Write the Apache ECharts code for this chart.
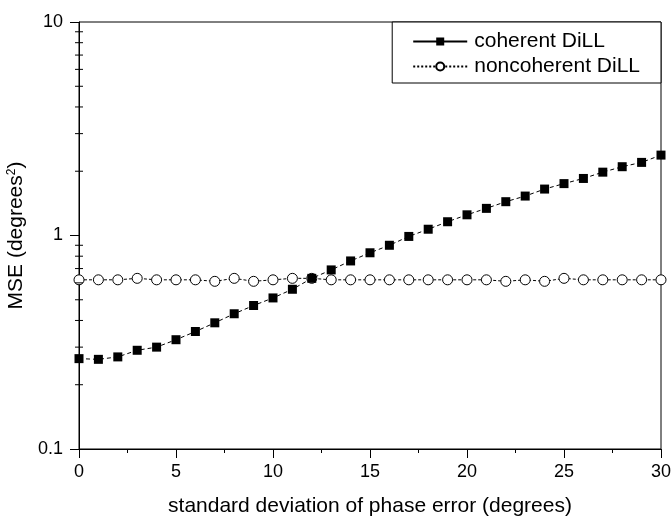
<!DOCTYPE html>
<html><head><meta charset="utf-8">
<script src="https://cdn.jsdelivr.net/npm/echarts@6/dist/echarts.min.js"></script>
<style>html,body{margin:0;padding:0;background:#fff}#c{width:671px;height:518px}</style>
</head><body><div id="c"></div>
<script>
const xValues = [0,1,2,3,4,5,6,7,8,9,10,11,12,13,14,15,16,17,18,19,20,21,22,23,24,25,26,27,28,29,30];
const coherent = [0.265,0.263,0.27,0.29,0.30,0.325,0.355,0.39,0.43,0.47,0.51,0.56,0.63,0.69,0.76,0.83,0.90,0.99,1.07,1.16,1.25,1.34,1.44,1.53,1.65,1.75,1.85,1.98,2.1,2.2,2.38];
const noncoherent = [0.62,0.62,0.62,0.63,0.62,0.62,0.62,0.61,0.63,0.61,0.62,0.63,0.63,0.62,0.62,0.62,0.62,0.62,0.62,0.62,0.62,0.62,0.61,0.62,0.61,0.63,0.62,0.62,0.62,0.62,0.62];
const yMinorTicks = [0.2,0.3,0.4,0.5,0.6,0.7,0.8,0.9,2,3,4,5,6,7,8,9];
const xTitle = 'standard deviation of phase error (degrees)';
const yTitle = 'MSE (degrees{sup|2})';
const names = ['coherent DiLL','noncoherent DiLL'];

const font = 'Liberation Sans, Arial, Helvetica, sans-serif';
const chart = echarts.init(document.getElementById('c'), null, {renderer:'canvas'});
chart.setOption({
  animation:false,
  backgroundColor:'#fff',
  grid:{left:79,right:10,top:22,bottom:69,outerBoundsMode:'none',containLabel:false,
        show:true,borderColor:'#000',borderWidth:1,backgroundColor:'transparent'},
  legend:{
    data:[{name:names[0],lineStyle:{type:'solid'}},{name:names[1],lineStyle:{type:[2,2]}}],
    orient:'vertical', right:10, top:22,
    backgroundColor:'#fff', borderColor:'#000', borderWidth:1, borderRadius:0,
    padding:[9,21,6,20], itemGap:4, itemWidth:54, itemHeight:10,
    textStyle:{fontFamily:font,fontSize:21,color:'#000',padding:[0,0,0,2]}
  },
  xAxis:{
    type:'value', min:0, max:30, interval:5,
    name:xTitle, nameLocation:'middle', nameGap:47,
    nameTextStyle:{fontFamily:font,fontSize:21,color:'#000'},
    axisLine:{lineStyle:{color:'#000',width:1}},
    axisTick:{show:true,inside:false,length:9,lineStyle:{color:'#000'}},
    minorTick:{show:true,splitNumber:2,length:4,lineStyle:{color:'#000'}},
    axisLabel:{fontFamily:font,fontSize:18,color:'#000',margin:14},
    splitLine:{show:false}
  },
  yAxis:{
    type:'log', logBase:10, min:0.1, max:10,
    name:yTitle, nameLocation:'middle', nameGap:41, nameRotate:90,
    nameTextStyle:{fontFamily:font,fontSize:21,color:'#000',
      rich:{sup:{fontFamily:font,fontSize:12,color:'#000',verticalAlign:'top',padding:[0,0,10,0]}}},
    axisLine:{lineStyle:{color:'#000',width:1}},
    axisTick:{show:true,inside:false,length:9,lineStyle:{color:'#000'}},
    axisLabel:{fontFamily:font,fontSize:18,color:'#000',margin:16},
    splitLine:{show:false}
  },
  series:[
    {
      name:names[0], type:'line', data:xValues.map((x,i)=>[x,coherent[i]]),
      symbol:'rect', symbolSize:9, showSymbol:true,
      itemStyle:{color:'#000'},
      lineStyle:{color:'#000',width:1,type:[4,3]},
      z:3
    },
    {
      name:names[1], type:'line', data:xValues.map((x,i)=>[x,noncoherent[i]]),
      symbol:'circle', symbolSize:10, showSymbol:true,
      itemStyle:{color:'#fff',borderColor:'#000',borderWidth:1},
      lineStyle:{color:'#000',width:1,type:[3,2]},
      z:2
    },
    {
      name:'minor', type:'custom', silent:true, clip:false,
      coordinateSystem:'cartesian2d',
      dimensions:['x','y'], encode:{x:0,y:1},
      data:yMinorTicks.map(v=>[0,v]),
      renderItem:function(params, api){
        const p = api.coord([api.value(0), api.value(1)]);
        return {type:'line', shape:{x1:p[0]-4,y1:p[1],x2:p[0]+4,y2:p[1]}, style:{stroke:'#000',lineWidth:1,fill:null}};
      },
      z:5
    }
  ]
});
</script></body></html>
